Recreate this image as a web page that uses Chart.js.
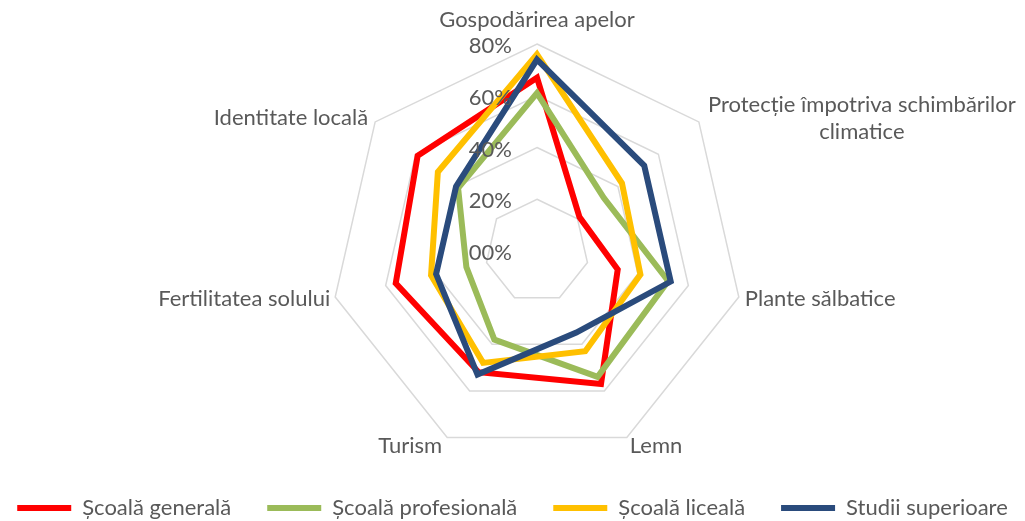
<!DOCTYPE html>
<html>
<head>
<meta charset="utf-8">
<script src="https://cdn.jsdelivr.net/npm/chart.js@4"></script>
<style>
  html, body { margin: 0; padding: 0; background: #fff; }
</style>
</head>
<body>
<canvas id="radarChart" width="1025" height="521"></canvas>
<script>
// categories (axes), clockwise from the top
const categories = [
  'Gospodărirea apelor',
  ['Protecție împotriva schimbărilor', 'climatice'],
  'Plante sălbatice',
  'Lemn',
  'Turism',
  'Fertilitatea solului',
  'Identitate locală'
];

// values in %
const scoalaGenerala     = [67, 21, 32, 57, 52, 56, 59];
const scoalaProfesionala = [61, 33, 52, 54, 38, 28, 39];
const scoalaLiceala      = [76, 42, 41, 43, 48, 42, 49];
const studiiSuperioare   = [74, 53, 53, 35, 53, 40, 40];

const tickLabels = ['00%', '20%', '40%', '60%', '80%'];

const textColor = '#595959';
const fontFamily = 'Lato, "Open Sans", sans-serif';

// where each axis label sits relative to its outer vertex
const labelPlacement = [
  {align: 'center', dx: 0,   dy: -24},
  {align: 'center', dx: 163, dy: -4},
  {align: 'left',   dx: 6,   dy: 2},
  {align: 'left',   dx: 3,   dy: 8},
  {align: 'right',  dx: -5,  dy: 8},
  {align: 'right',  dx: -5,  dy: 2},
  {align: 'right',  dx: -7,  dy: -4}
];

const radarText = {
  id: 'radarText',
  afterDatasetsDraw(chart) {
    const r = chart.scales.r;
    const ctx = chart.ctx;
    ctx.save();
    ctx.font = '22px ' + fontFamily;
    ctx.fillStyle = textColor;
    ctx.textBaseline = 'middle';

    // tick labels, left of the vertical axis
    ctx.textAlign = 'right';
    r.ticks.forEach((t, i) => {
      const d = r.getDistanceFromCenterForValue(t.value);
      ctx.fillText(tickLabels[i], r.xCenter - 25, r.yCenter - d + 2);
    });

    // axis labels
    categories.forEach((c, i) => {
      const p = r.getPointPosition(i, r.drawingArea);
      const pl = labelPlacement[i];
      const lines = Array.isArray(c) ? c : [c];
      ctx.textAlign = pl.align;
      lines.forEach((line, k) => {
        const y = p.y + pl.dy + (k - (lines.length - 1) / 2) * 27;
        ctx.fillText(line, p.x + pl.dx, y);
      });
    });
    ctx.restore();
  }
};

function series(label, values, color, order) {
  return {
    label: label,
    data: values,
    borderColor: color,
    backgroundColor: color,
    borderWidth: 6,
    borderJoinStyle: 'miter',
    borderCapStyle: 'round',
    fill: false,
    pointRadius: 0,
    pointHoverRadius: 0,
    order: order
  };
}

const ctx = document.getElementById('radarChart').getContext('2d');
const radarChart = new Chart(ctx, {
  type: 'radar',
  data: {
    labels: categories,
    datasets: [
      series('Școală generală', scoalaGenerala, '#FF0000', 4),
      series('Școală profesională', scoalaProfesionala, '#9BBB59', 3),
      series('Școală liceală', scoalaLiceala, '#FFC000', 2),
      series('Studii superioare', studiiSuperioare, '#2A4B7C', 1)
    ]
  },
  options: {
    responsive: false,
    animation: false,
    // negative side padding lets the legend use the whole width in one row
    layout: { padding: { top: 44, left: -20, right: -20, bottom: 0 } },
    scales: {
      r: {
        min: 0,
        max: 80,
        ticks: { stepSize: 20, display: false },
        grid: { color: '#D9D9D9', lineWidth: 1.5 },
        angleLines: { display: false },
        pointLabels: { display: false },
        afterFit(scale) {
          // Excel-like placement: plot shifted right, legend far below
          scale.drawingArea = 207;
          scale.xCenter = Math.round(scale.left + scale.width / 2) + 24;
          scale.yCenter = scale.top + 207;
        }
      }
    },
    plugins: {
      tooltip: { enabled: false },
      legend: {
        position: 'bottom',
        maxHeight: 60,
        labels: {
          font: { family: fontFamily, size: 22 },
          color: textColor,
          usePointStyle: true,
          pointStyle: 'line',
          pointStyleWidth: 54,
          padding: 36,
          sort: (a, b) => a.datasetIndex - b.datasetIndex
        }
      }
    }
  },
  plugins: [radarText]
});
</script>
</body>
</html>
